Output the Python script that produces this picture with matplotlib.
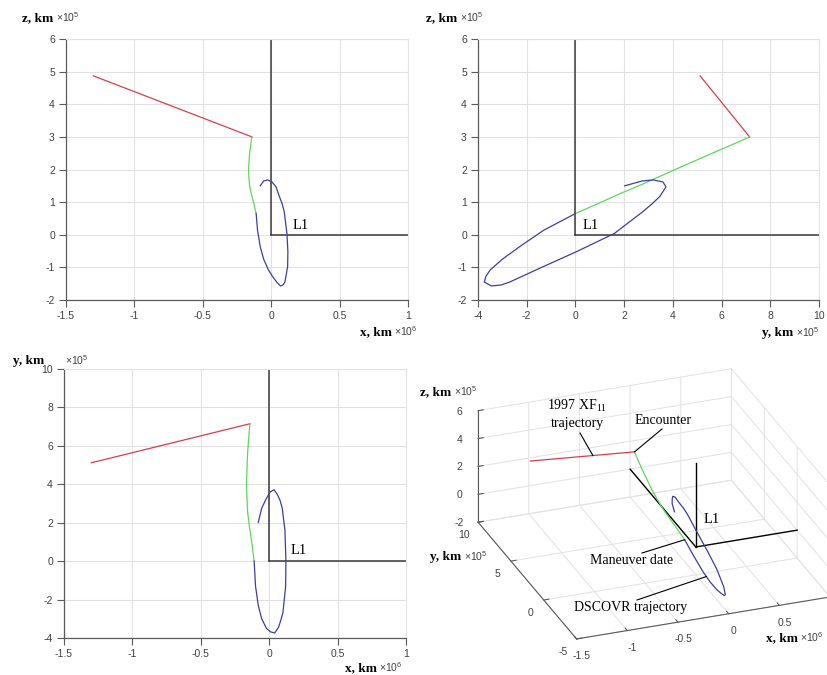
import numpy as np
import matplotlib
matplotlib.use("Agg")
import matplotlib.pyplot as plt
from matplotlib.lines import Line2D
from mpl_toolkits.mplot3d import proj3d

plt.rcParams["font.family"] = ["Liberation Sans", "DejaVu Sans"]
plt.rcParams["axes.unicode_minus"] = False
plt.rcParams["mathtext.fontset"] = "custom"
plt.rcParams["mathtext.rm"] = "Liberation Serif"
plt.rcParams["mathtext.sf"] = "Liberation Sans"

# units: x in 1e6 km, y and z in 1e5 km
# 1997 XF11 trajectory (start -> encounter)
ast_x = [-1.30, -0.141]
ast_y = [5.12, 7.15]
ast_z = [4.87, 3.00]

# transfer arc: encounter -> maneuver date
tr_x = [-0.141, -0.150, -0.158, -0.166, -0.163, -0.158, -0.145, -0.129, -0.110]
tr_y = [7.15, 6.40, 5.62, 4.10, 3.35, 2.60, 1.80, 1.06, 0.00]
tr_z = [3.00, 2.75, 2.50, 2.00, 1.75, 1.50, 1.25, 1.00, 0.65]

# DSCOVR halo orbit around L1
sc_x = [-0.110, -0.100, -0.080, -0.055, -0.020, 0.010, 0.040, 0.068, 0.086, 0.100,
        0.120, 0.122, 0.115, 0.095, 0.080, 0.060, 0.035, 0.005, -0.025, -0.055, -0.080]
sc_y = [0.00, -1.30, -2.30, -3.00, -3.50, -3.68, -3.74, -3.45, -3.05, -2.70,
        -1.33, 0.04, 1.60, 2.77, 3.15, 3.46, 3.72, 3.59, 3.20, 2.75, 2.02]
sc_z = [0.65, 0.14, -0.37, -0.75, -1.08, -1.28, -1.45, -1.57, -1.54, -1.45,
        -0.98, -0.52, 0.04, 0.71, 0.95, 1.17, 1.47, 1.62, 1.68, 1.65, 1.50]

# L1 point and its reference axes
l1 = (0.0, 0.0, 0.0)
l1_x_end = 1.0
l1_y_end = 10.0
l1_z_end = 6.0

x_ticks = [-1.5, -1, -0.5, 0, 0.5, 1]
y_ticks = [-4, -2, 0, 2, 4, 6, 8, 10]
z_ticks = [-2, -1, 0, 1, 2, 3, 4, 5, 6]
y_ticks_xy = [-4, -2, 0, 2, 4, 6, 8, 10]
x3_ticks = [-1.5, -1, -0.5, 0, 0.5, 1]
y3_ticks = [-5, 0, 5, 10]
z3_ticks = [-2, 0, 2, 4, 6]

W, H = 828, 675
fig = plt.figure(figsize=(W / 100, H / 100), dpi=100)

red = "#d2404e"
green = "#5ed65e"
blue = "#3e3e9e"
dark = "#3a3a3a"
gridc = "#e2e2e2"
spine = "#5a5a5a"
tickc = "#404040"
serif = "Liberation Serif"


def box(l, t, r, b):
    return [l / W, 1 - b / H, (r - l) / W, (b - t) / H]


def label(px, py, name, power, gap=34):
    fig.text(px / W, 1 - py / H, name, family=serif, fontsize=9.5,
             fontweight="bold", va="center", ha="left")
    fig.text((px + gap) / W, 1 - (py - 1) / H, "×10$^{\\mathsf{%d}}$" % power,
             fontsize=7.5, color=tickc, va="center", ha="left")


def style2d(ax, xlim, ylim, xt, yt):
    ax.set_xlim(xlim)
    ax.set_ylim(ylim)
    ax.set_xticks(xt)
    ax.set_yticks(yt)
    ax.set_xticklabels([f"{v:g}" for v in xt])
    ax.set_yticklabels([f"{v:g}" for v in yt])
    ax.grid(True, color=gridc, lw=0.8)
    ax.set_axisbelow(True)
    for s in ["top", "right"]:
        ax.spines[s].set_color(gridc)
    for s in ["left", "bottom"]:
        ax.spines[s].set_color(spine)
        ax.spines[s].set_linewidth(0.9)
    ax.tick_params(direction="out", length=5, width=0.8, color=spine,
                   labelsize=7.5, labelcolor=tickc, pad=3)


lw = 0.9

# x-z projection
ax1 = fig.add_axes(box(66, 39, 408, 300))
style2d(ax1, (-1.5, 1), (-2, 6), x_ticks, z_ticks)
ax1.plot([l1[0], l1_x_end], [l1[2], l1[2]], color=dark, lw=1.1)
ax1.plot([l1[0], l1[0]], [l1[2], l1_z_end], color=dark, lw=1.1)
ax1.plot(ast_x, ast_z, color=red, lw=lw)
ax1.plot(tr_x, tr_z, color=green, lw=lw)
ax1.plot(sc_x, sc_z, color=blue, lw=lw)
ax1.text(0.155, 0.17, "L1", family=serif, fontsize=10.5)
label(22, 18, "z, km", 5)
label(360, 332, "x, km", 6)

# y-z projection
ax2 = fig.add_axes(box(478, 39, 819, 300))
style2d(ax2, (-4, 10), (-2, 6), y_ticks, z_ticks)
ax2.plot([l1[1], l1_y_end], [l1[2], l1[2]], color=dark, lw=1.1)
ax2.plot([l1[1], l1[1]], [l1[2], l1_z_end], color=dark, lw=1.1)
ax2.plot(ast_y, ast_z, color=red, lw=lw)
ax2.plot(tr_y, tr_z, color=green, lw=lw)
ax2.plot(sc_y, sc_z, color=blue, lw=lw)
ax2.text(0.31, 0.17, "L1", family=serif, fontsize=10.5)
label(426, 18, "z, km", 5)
label(762, 333, "y, km", 5)

# x-y projection
ax3 = fig.add_axes(box(64, 369, 406, 638))
style2d(ax3, (-1.5, 1), (-4, 10), x_ticks, y_ticks_xy)
ax3.plot([l1[0], l1_x_end], [l1[1], l1[1]], color=dark, lw=1.1)
ax3.plot([l1[0], l1[0]], [l1[1], l1_y_end], color=dark, lw=1.1)
ax3.plot(ast_x, ast_y, color=red, lw=lw)
ax3.plot(tr_x, tr_y, color=green, lw=lw)
ax3.plot(sc_x, sc_y, color=blue, lw=lw)
ax3.text(0.157, 0.38, "L1", family=serif, fontsize=10.5)
label(13, 361, "y, km", 5, gap=52)
label(345, 668, "x, km", 6)

# 3D view
ax4 = fig.add_axes(box(430, 300, 830, 700), projection="3d")
ax4.set_proj_type("ortho")
ax4.view_init(elev=26.3, azim=-110.5)
ax4.set_box_aspect((1, 1.04, 0.46))
ax4.set_xlim(-1.5, 1)
ax4.set_ylim(-5, 10)
ax4.set_zlim(-2, 6)
ax4.set_xticks(x3_ticks)
ax4.set_yticks(y3_ticks)
ax4.set_zticks(z3_ticks)
ax4.set_xticklabels([f"{v:g}" for v in x3_ticks])
ax4.set_yticklabels([f"{v:g}" for v in y3_ticks])
ax4.set_zticklabels([f"{v:g}" for v in z3_ticks])
ax4.patch.set_alpha(0)
for axis in (ax4.xaxis, ax4.yaxis, ax4.zaxis):
    axis.set_pane_color((1, 1, 1, 0))
    axis.pane.set_edgecolor(gridc)
    axis._axinfo["grid"].update(color=gridc, linewidth=0.7)
    axis._axinfo["tick"]["inward_factor"] = 0.0
    axis._axinfo["tick"]["outward_factor"] = 0.25
    axis.line.set_color(spine)
    axis.line.set_linewidth(0.8)
    axis.label.set_visible(False)
    axis.offsetText.set_visible(False)
ax4.tick_params(labelsize=7.5, labelcolor=tickc, color=spine, pad=0)

ax4.plot([l1[0], l1_x_end], [l1[1], l1[1]], [l1[2], l1[2]], color="black", lw=1)
ax4.plot([l1[0], l1[0]], [l1[1], l1_y_end], [l1[2], l1[2]], color="black", lw=1)
ax4.plot([l1[0], l1[0]], [l1[1], l1[1]], [l1[2], l1_z_end], color="black", lw=1)
ax4.plot(ast_x, ast_y, ast_z, color=red, lw=lw)
ax4.plot(tr_x, tr_y, tr_z, color=green, lw=lw)
ax4.plot(sc_x, sc_y, sc_z, color=blue, lw=lw)
ax4.text(0.08, 0, 1.4, "L1", family=serif, fontsize=10.5, ha="left", va="bottom")


def proj_px(ax, xs, ys, zs):
    px, py, _ = proj3d.proj_transform(np.asarray(xs, float), np.asarray(ys, float),
                                      np.asarray(zs, float), ax.get_proj())
    return ax.transData.transform(np.column_stack([px, py]))


# place the 3D box where it sits in the reference
fig.canvas.draw()
ref_pts = np.array([[-1.5, 10, -2], [-1.5, -5, -2], [-1.5, 10, 6], [1, 10, -2], [0, 0, 0]])
ref_px = np.array([[478, 522], [577, 640], [479, 410], [732, 480], [694, 547]], float)
ref_px[:, 1] = H - ref_px[:, 1]
frac = ax4.transAxes.inverted().transform(proj_px(ax4, *ref_pts.T))
rows, rhs = [], []
for (fx, fy), (tx, ty) in zip(frac, ref_px):
    rows += [[1, 0, fx], [0, 1, fy]]
    rhs += [tx, ty]
ox, oy, wpx = np.linalg.lstsq(np.array(rows), np.array(rhs), rcond=None)[0]
ax4.set_position([ox / W, oy / H, wpx / W, wpx / H])
fig.canvas.draw()

label(420, 392, "z, km", 5)
label(430, 557, "y, km", 5)
label(766, 638, "x, km", 6)


def note(text, cx, cy, sx, sy, target):
    fig.text(cx / W, 1 - cy / H, text, family=serif, fontsize=10, ha="center", va="center")
    if target is not None:
        tx, ty = target
        fig.add_artist(Line2D([sx / W, tx / W], [1 - sy / H, ty / H],
                              transform=fig.transFigure, color="black", lw=0.8))


red_mid = proj_px(ax4, [ast_x[0] + 0.6 * (ast_x[1] - ast_x[0])],
                  [ast_y[0] + 0.6 * (ast_y[1] - ast_y[0])],
                  [ast_z[0] + 0.6 * (ast_z[1] - ast_z[0])])[0]
enc = proj_px(ax4, [ast_x[-1]], [ast_y[-1]], [ast_z[-1]])[0]
man = proj_px(ax4, [tr_x[-1]], [tr_y[-1]], [tr_z[-1]])[0]
orb = proj_px(ax4, sc_x[2:4], sc_y[2:4], sc_z[2:4]).mean(axis=0)

note("1997 XF$_{11}$", 577, 406, 0, 0, None)
note("trajectory", 577, 423, 580, 433, red_mid)
note("Encounter", 663, 421, 662, 429, enc)
note("Maneuver date", 632, 561, 642, 553, man)
note("DSCOVR trajectory", 631, 608, 637, 600, orb)

fig.savefig("out.png", dpi=100)
